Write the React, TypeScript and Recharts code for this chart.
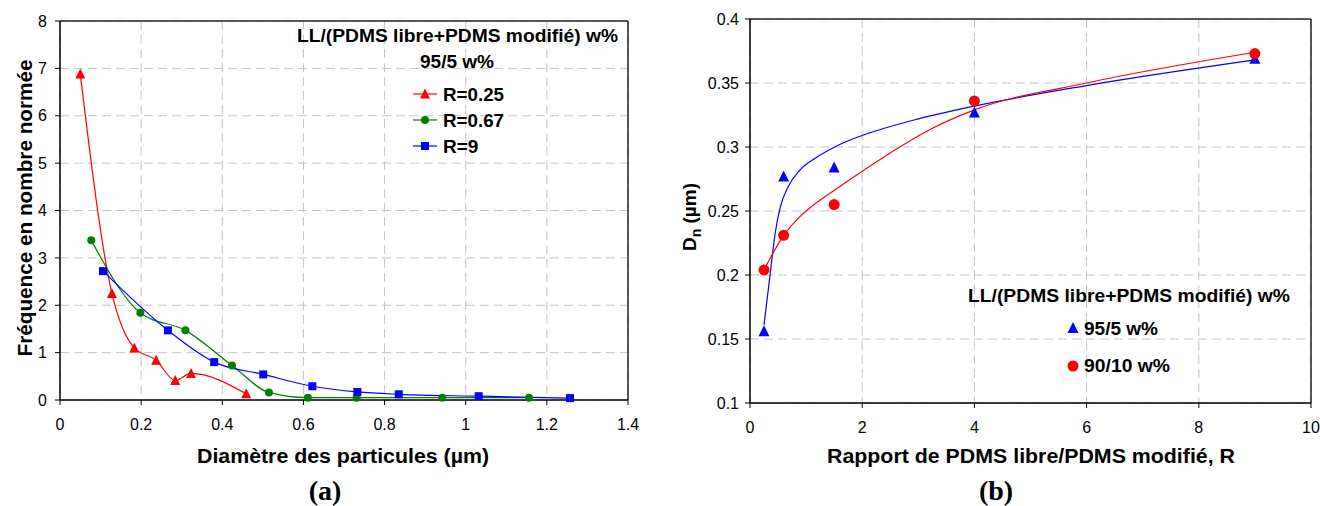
import React from "react"
import { ComposedChart, Line, Scatter, XAxis, YAxis, CartesianGrid, ReferenceLine } from "recharts"

// (a) size distribution, LL/(PDMS libre+PDMS modifié) 95/5 w%
const r025X = [0.05, 0.128, 0.183, 0.237, 0.284, 0.323, 0.459]
const r025Y = [6.88, 2.25, 1.1, 0.84, 0.41, 0.56, 0.13]
const r067X = [0.077, 0.198, 0.309, 0.424, 0.515, 0.611, 0.731, 0.942, 1.156]
const r067Y = [3.37, 1.84, 1.47, 0.73, 0.16, 0.05, 0.05, 0.05, 0.05]
const r9X = [0.106, 0.266, 0.38, 0.501, 0.622, 0.733, 0.835, 1.032, 1.257]
const r9Y = [2.72, 1.47, 0.8, 0.54, 0.29, 0.17, 0.12, 0.08, 0.04]
const diamTicks = [0, 0.2, 0.4, 0.6, 0.8, 1, 1.2, 1.4]
const freqTicks = [0, 1, 2, 3, 4, 5, 6, 7, 8]

// (b) Dn vs R
const ratioR = [0.25, 0.6, 1.5, 4, 9]
const dn95 = [0.156, 0.277, 0.284, 0.327, 0.369]
const dn90 = [0.204, 0.231, 0.255, 0.336, 0.373]
// trend curves
const fit95X = [0.25, 0.36, 0.45, 0.54, 0.68, 0.89, 1.19, 1.6, 2, 3, 4, 6, 9]
const fit95Y = [0.161, 0.201, 0.233, 0.253, 0.269, 0.282, 0.292, 0.302, 0.309, 0.322, 0.332, 0.348, 0.368]
const fit90X = [0.25, 0.6, 0.9, 1.2, 1.5, 2, 2.67, 3.27, 4, 6, 9]
const fit90Y = [0.204, 0.231, 0.246, 0.257, 0.266, 0.281, 0.3, 0.315, 0.329, 0.35, 0.374]
const ratioTicks = [0, 2, 4, 6, 8, 10]
const dnTicks = [0.1, 0.15, 0.2, 0.25, 0.3, 0.35, 0.4]

const toPoints = (xs: number[], ys: number[]) => xs.map((x, i) => ({ x, y: ys[i] }))

const FONT = "'Liberation Sans', Arial, sans-serif"
const RED = "#ff0000"
const GREEN = "#008000"
const BLUE = "#0000ff"
const GRID = "#c4c4c4"

function tri(cx: number, cy: number, s: number, fill: string, key?: string) {
  return (
    <polygon
      key={key}
      points={`${cx},${cy - s * 0.55} ${cx - s / 2},${cy + s * 0.45} ${cx + s / 2},${cy + s * 0.45}`}
      fill={fill}
    />
  )
}

function sq(cx: number, cy: number, s: number, fill: string, key?: string) {
  return <rect key={key} x={cx - s / 2} y={cy - s / 2} width={s} height={s} fill={fill} />
}

function circ(cx: number, cy: number, r: number, fill: string, key?: string) {
  return <circle key={key} cx={cx} cy={cy} r={r} fill={fill} />
}

const tickStyle = { fill: "#000", fontSize: 16, fontFamily: FONT }

function ChartA() {
  return (
    <ComposedChart width={660} height={506} margin={{ top: 21, right: 32, bottom: 76, left: 15 }}>
      <CartesianGrid stroke={GRID} strokeDasharray="9 5" />
      <XAxis
        type="number"
        dataKey="x"
        domain={[0, 1.4]}
        ticks={diamTicks}
        height={30}
        tickSize={5}
        tickMargin={14}
        tick={tickStyle}
        axisLine={{ stroke: "#000", strokeWidth: 1.5 }}
        tickLine={{ stroke: "#000" }}
      />
      <YAxis
        type="number"
        domain={[0, 8]}
        ticks={freqTicks}
        width={45}
        tickSize={5}
        tickMargin={8}
        tick={tickStyle}
        axisLine={{ stroke: "#000", strokeWidth: 1.5 }}
        tickLine={{ stroke: "#000" }}
      />
      <ReferenceLine y={8} stroke="#222" strokeWidth={1.5} />
      <ReferenceLine x={1.4} stroke="#222" strokeWidth={1.5} />
      <Line
        data={toPoints(r025X, r025Y)}
        dataKey="y"
        type="monotone"
        stroke={RED}
        strokeWidth={1.2}
        isAnimationActive={false}
        dot={(p: any) => tri(p.cx, p.cy, 10, RED, `r025-${p.index}`)}
        activeDot={false}
      />
      <Line
        data={toPoints(r067X, r067Y)}
        dataKey="y"
        type="monotone"
        stroke={GREEN}
        strokeWidth={1.2}
        isAnimationActive={false}
        dot={(p: any) => circ(p.cx, p.cy, 4, GREEN, `r067-${p.index}`)}
        activeDot={false}
      />
      <Line
        data={toPoints(r9X, r9Y)}
        dataKey="y"
        type="monotone"
        stroke={BLUE}
        strokeWidth={1.2}
        isAnimationActive={false}
        dot={(p: any) => sq(p.cx, p.cy, 8, BLUE, `r9-${p.index}`)}
        activeDot={false}
      />
    </ComposedChart>
  )
}

function ChartB() {
  return (
    <ComposedChart width={660} height={506} margin={{ top: 19, right: 9, bottom: 73, left: 45 }}>
      <CartesianGrid stroke={GRID} strokeDasharray="9 5" />
      <XAxis
        type="number"
        dataKey="x"
        domain={[0, 10]}
        ticks={ratioTicks}
        height={30}
        tickSize={5}
        tickMargin={14}
        tick={tickStyle}
        axisLine={{ stroke: "#000", strokeWidth: 1.5 }}
        tickLine={{ stroke: "#000" }}
      />
      <YAxis
        type="number"
        domain={[0.1, 0.4]}
        ticks={dnTicks}
        width={45}
        tickSize={5}
        tickMargin={6}
        tick={tickStyle}
        axisLine={{ stroke: "#000", strokeWidth: 1.5 }}
        tickLine={{ stroke: "#000" }}
      />
      <ReferenceLine y={0.4} stroke="#222" strokeWidth={1.5} />
      <ReferenceLine x={10} stroke="#222" strokeWidth={1.5} />
      <Line
        data={toPoints(fit95X, fit95Y)}
        dataKey="y"
        type="monotone"
        stroke={BLUE}
        strokeWidth={1.2}
        dot={false}
        activeDot={false}
        isAnimationActive={false}
      />
      <Line
        data={toPoints(fit90X, fit90Y)}
        dataKey="y"
        type="monotone"
        stroke={RED}
        strokeWidth={1.2}
        dot={false}
        activeDot={false}
        isAnimationActive={false}
      />
      <Scatter
        data={toPoints(ratioR, dn95)}
        dataKey="y"
        isAnimationActive={false}
        shape={(p: any) => tri(p.cx, p.cy, 11, BLUE)}
      />
      <Scatter
        data={toPoints(ratioR, dn90)}
        dataKey="y"
        isAnimationActive={false}
        shape={(p: any) => circ(p.cx, p.cy, 5.5, RED)}
      />
    </ComposedChart>
  )
}

const bold = { fontFamily: FONT, fontWeight: 700, fill: "#000" } as const

function Overlay() {
  return (
    <svg width={1320} height={506} style={{ position: "absolute", left: 0, top: 0, pointerEvents: "none" }}>
      {/* legend (a) */}
      <text x={297} y={42} fontSize={19} textLength={321} lengthAdjust="spacingAndGlyphs" {...bold}>
        LL/(PDMS libre+PDMS modifié) w%
      </text>
      <text x={457} y={68} fontSize={19} textAnchor="middle" {...bold}>
        95/5 w%
      </text>
      <line x1={413} x2={437} y1={94} y2={94} stroke={RED} strokeWidth={1.2} />
      {tri(425, 94, 10, RED)}
      <text x={443} y={101} fontSize={19} textLength={61} lengthAdjust="spacingAndGlyphs" {...bold}>R=0.25</text>
      <line x1={413} x2={437} y1={120} y2={120} stroke={GREEN} strokeWidth={1.2} />
      {circ(425, 120, 4, GREEN)}
      <text x={443} y={127} fontSize={19} textLength={61} lengthAdjust="spacingAndGlyphs" {...bold}>R=0.67</text>
      <line x1={413} x2={437} y1={146} y2={146} stroke={BLUE} strokeWidth={1.2} />
      {sq(425, 146, 8, BLUE)}
      <text x={443} y={153} fontSize={19} {...bold}>R=9</text>

      {/* legend (b) */}
      <text x={968} y={302} fontSize={19} textLength={322} lengthAdjust="spacingAndGlyphs" {...bold}>
        LL/(PDMS libre+PDMS modifié) w%
      </text>
      {tri(1073, 328, 11, BLUE)}
      <text x={1084} y={335} fontSize={19} textLength={74} lengthAdjust="spacingAndGlyphs" {...bold}>95/5 w%</text>
      {circ(1073, 366, 5.5, RED)}
      <text x={1084} y={372} fontSize={19} textLength={86} lengthAdjust="spacingAndGlyphs" {...bold}>90/10 w%</text>

      {/* axis titles */}
      <text x={197} y={463} fontSize={20} textLength={292} lengthAdjust="spacingAndGlyphs" {...bold}>
        Diamètre des particules (µm)
      </text>
      <text x={827} y={463} fontSize={20} textLength={408} lengthAdjust="spacingAndGlyphs" {...bold}>
        Rapport de PDMS libre/PDMS modifié, R
      </text>
      <text
        transform="translate(32,208) rotate(-90)"
        x={0}
        y={0}
        fontSize={20}
        textAnchor="middle"
        textLength={297}
        lengthAdjust="spacingAndGlyphs"
        {...bold}
      >
        Fréquence en nombre normée
      </text>
      <text transform="translate(696,217) rotate(-90)" x={0} y={0} fontSize={19} textAnchor="middle" {...bold}>
        D<tspan fontSize={14} dy={5}>n</tspan>
        <tspan dy={-5}>{"  (µm)"}</tspan>
      </text>

      {/* panel labels */}
      <text x={325} y={500} fontSize={28} textAnchor="middle" fontFamily="'Liberation Serif', 'Times New Roman', serif" fontWeight={700}>
        (a)
      </text>
      <text x={996} y={500} fontSize={28} textAnchor="middle" fontFamily="'Liberation Serif', 'Times New Roman', serif" fontWeight={700}>
        (b)
      </text>
    </svg>
  )
}

export default function App() {
  return (
    <div style={{ position: "absolute", left: 0, top: 0, width: 1320, height: 506, background: "#fff" }}>
      <div style={{ position: "absolute", left: 0, top: 0 }}>
        <ChartA />
      </div>
      <div style={{ position: "absolute", left: 660, top: 0 }}>
        <ChartB />
      </div>
      <Overlay />
    </div>
  )
}
